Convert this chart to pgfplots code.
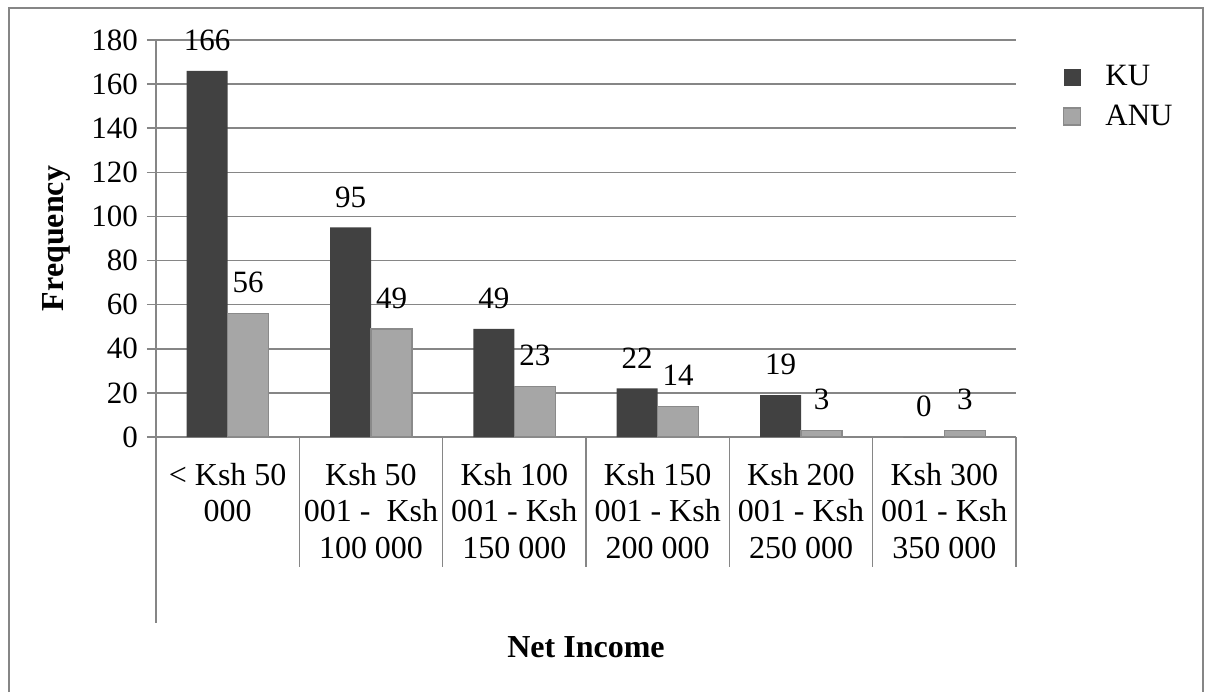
\documentclass[border=0pt]{standalone}
\usepackage{fontspec}
\setmainfont{Liberation Serif}
\usepackage{pgfplots}
\pgfplotsset{compat=1.18}
\definecolor{gridc}{RGB}{134,134,134}
\definecolor{kuD}{RGB}{46,46,46}
\definecolor{kuF}{RGB}{65,65,65}
\definecolor{anuD}{RGB}{138,138,138}
\definecolor{anuF}{RGB}{166,166,166}
\begin{document}
\begin{tikzpicture}
\useasboundingbox (0,0) rectangle (604pt,346pt);
\draw[gridc, line width=1pt] (4.5pt,0) -- (4.5pt,342pt) -- (601.5pt,342pt) -- (601.5pt,0);
\begin{axis}[
  at={(78pt,127.5pt)}, anchor=south west,
  width=430pt, height=198.5pt, scale only axis,
  xmin=-0.5, xmax=5.5, ymin=0, ymax=180,
  ybar=0pt, bar width=20.5pt,
  axis x line*=bottom, axis y line*=left,
  axis line style={gridc, line width=0.8pt},
  ymajorgrids, grid style={gridc, line width=0.8pt},
  ytick={0,20,...,180},
  xtick={0,...,5},
  xticklabels={{< Ksh 50\\000},{Ksh 50\\001 -\ \ Ksh\\100 000},{Ksh 100\\001 - Ksh\\150 000},{Ksh 150\\001 - Ksh\\200 000},{Ksh 200\\001 - Ksh\\250 000},{Ksh 300\\001 - Ksh\\350 000}},
  xtick style={draw=none},
  ytick style={gridc, line width=0.8pt},
  tick align=outside, major tick length=4.5pt,
  /pgf/number format/assume math mode=true,
  yticklabel style={font=\fontsize{15.5}{17}\selectfont, xshift=-1pt},
  xticklabel style={font=\fontsize{16}{18.35}\selectfont, align=center, anchor=north, yshift=-5pt},
  ylabel={\textbf{Frequency}},
  ylabel style={at={(axis description cs:-0.116,0.5)}, anchor=center, font=\fontsize{16}{18}\selectfont},
  xlabel={\textbf{Net Income}},
  xlabel style={at={(axis description cs:0.5,-0.529)}, anchor=center, font=\fontsize{16}{18}\selectfont},
  nodes near coords,
  nodes near coords style={font=\fontsize{15.5}{17}\selectfont, text=black, yshift=6.5pt},
  legend style={draw=none, fill=none, at={(1.0475,0.957)}, anchor=north west,
    font=\fontsize{15.5}{17}\selectfont, row sep=4pt,
    /tikz/every odd column/.append style={column sep=10pt}},
  legend cell align=left,
  legend image code/.code={\fill[#1] (0pt,-4.25pt) rectangle (8.5pt,4.25pt);},
  clip=false,
]
\addplot[draw=none, fill=kuF] coordinates {(0,166) (1,95) (2,49) (3,22) (4,19) (5,0)};
\addplot[draw=anuD, line width=0.6pt, fill=anuF] coordinates {(0,56) (1,49) (2,23) (3,14) (4,3) (5,3)};
\legend{KU, ANU}
\draw[gridc, line width=0.8pt] (axis cs:-0.5,0) -- ++(0pt,-93pt);
\draw[gridc, line width=0.8pt] (axis cs:0.5,0) -- ++(0pt,-65pt);
\draw[gridc, line width=0.8pt] (axis cs:1.5,0) -- ++(0pt,-65pt);
\draw[gridc, line width=0.8pt] (axis cs:2.5,0) -- ++(0pt,-65pt);
\draw[gridc, line width=0.8pt] (axis cs:3.5,0) -- ++(0pt,-65pt);
\draw[gridc, line width=0.8pt] (axis cs:4.5,0) -- ++(0pt,-65pt);
\draw[gridc, line width=0.8pt] (axis cs:5.5,0) -- ++(0pt,-65pt);
\end{axis}
\end{tikzpicture}
\end{document}
